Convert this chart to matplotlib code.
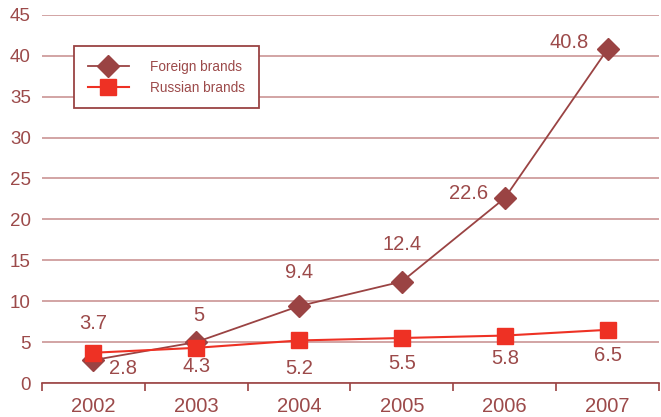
import numpy as np
import matplotlib.pyplot as plt
from matplotlib.ticker import FixedLocator

plt.rcParams['font.family'] = ['Liberation Sans', 'DejaVu Sans']

years = ["2002", "2003", "2004", "2005", "2006", "2007"]
foreign = [2.8, 5, 9.4, 12.4, 22.6, 40.8]
russian = [3.7, 4.3, 5.2, 5.5, 5.8, 6.5]

# label offsets in pixels, per point
foreign_off = [(30, -8), (3, 27), (0, 34), (0, 37), (-36, 5), (-38, 7)]
russian_off = [(0, 29), (0, -19), (0, -28), (0, -25), (0, -23), (0, -26)]

text_col = "#9c4a4a"
grid_col = "#cf9d9d"
foreign_col = "#9a4343"
russian_col = "#ee3124"

fig = plt.figure(figsize=(6.61, 4.17), dpi=100)
ax = fig.add_axes([0.0635, 0.0815, 0.9335, 0.883])

x = np.arange(len(years))
ax.plot(x, foreign, color=foreign_col, lw=1.3, marker="D", ms=11,
        label="Foreign brands", zorder=3)
ax.plot(x, russian, color=russian_col, lw=1.5, marker="s", ms=12,
        label="Russian brands", zorder=4)

for xi, v, off in zip(x, foreign, foreign_off):
    ax.annotate(f"{v:g}", (xi, v), xytext=off, textcoords="offset pixels",
                ha="center", va="center", fontsize=14.5, color=text_col)
for xi, v, off in zip(x, russian, russian_off):
    ax.annotate(f"{v:g}", (xi, v), xytext=off, textcoords="offset pixels",
                ha="center", va="center", fontsize=14.5, color=text_col)

ax.set_xlim(-0.5, 5.5)
ax.set_ylim(0, 45)
ax.set_yticks(range(0, 46, 5))
ax.set_xticks(x)
ax.set_xticklabels(years)
ax.xaxis.set_minor_locator(FixedLocator(np.arange(-0.5, 6, 1)))
ax.tick_params(axis="x", which="major", length=0, pad=10, labelsize=14.5,
               labelcolor=text_col)
ax.tick_params(axis="x", which="minor", length=6, width=1.2, color=foreign_col,
               direction="out")
ax.tick_params(axis="y", length=0, pad=8, labelsize=13.5, labelcolor=text_col)

ax.grid(axis="y", color=grid_col, lw=1.3)
ax.set_axisbelow(True)
for s in ["left", "right", "top"]:
    ax.spines[s].set_visible(False)
ax.spines["bottom"].set_color(foreign_col)
ax.spines["bottom"].set_linewidth(1.2)

leg = ax.legend(loc="upper left", bbox_to_anchor=(0.052, 0.915), borderaxespad=0,
                fontsize=9.8, handlelength=3.0, handletextpad=1.6,
                borderpad=1.0, labelspacing=0.5, fancybox=False, framealpha=1,
                labelcolor=text_col)
leg.get_frame().set_edgecolor(foreign_col)
leg.get_frame().set_linewidth(1.3)

plt.savefig("out.png", dpi=100)
